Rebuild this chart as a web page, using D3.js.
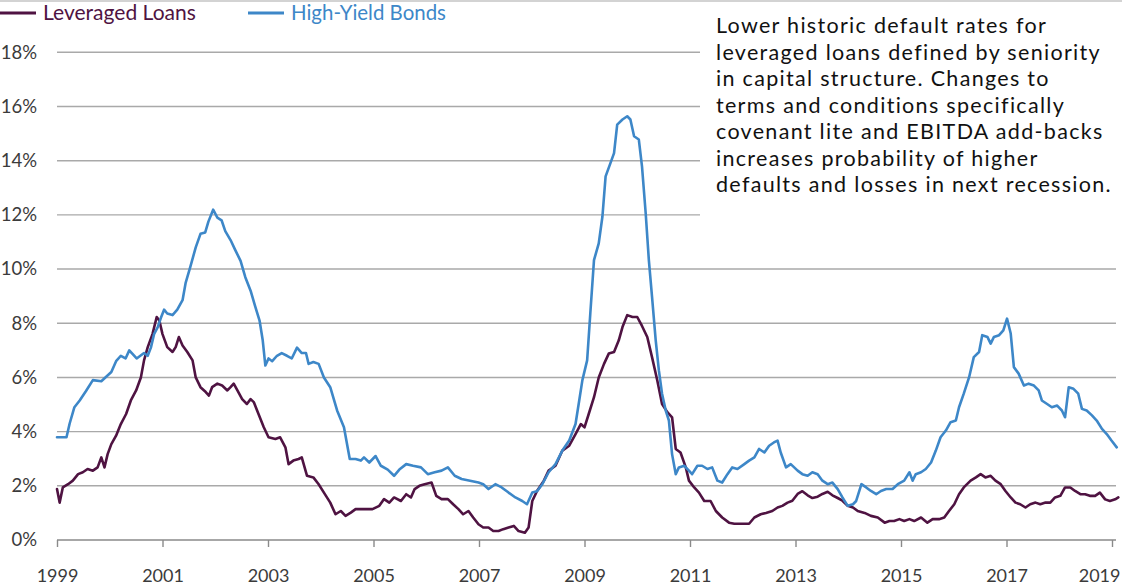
<!DOCTYPE html>
<html><head><meta charset="utf-8">
<script src="https://cdn.jsdelivr.net/npm/d3@7"></script>
<style>html,body{margin:0;padding:0;background:#fff}svg{display:block}</style>
</head><body>
<svg id="chart" width="1122" height="586"></svg>
<script>
const yTicks = [0, 2, 4, 6, 8, 10, 12, 14, 16, 18];
const xTicks = [1999, 2001, 2003, 2005, 2007, 2009, 2011, 2013, 2015, 2017, 2019];
const seriesNames = ["Leveraged Loans", "High-Yield Bonds"];
const noteLines = [
  "Lower historic default rates for",
  "leveraged loans defined by seniority",
  "in capital structure. Changes to",
  "terms and conditions specifically",
  "covenant lite and EBITDA add-backs",
  "increases probability of higher",
  "defaults and losses in next recession."
];
// [decimal year, default rate %]
const llPoints = [[1999.00,1.88],[1999.05,1.38],[1999.11,1.94],[1999.21,2.06],[1999.30,2.19],[1999.40,2.43],[1999.49,2.5],[1999.58,2.62],[1999.68,2.56],[1999.77,2.68],[1999.84,3.05],[1999.90,2.68],[1999.96,3.17],[2000.03,3.54],[2000.12,3.85],[2000.21,4.28],[2000.31,4.65],[2000.40,5.15],[2000.50,5.52],[2000.59,6.0],[2000.65,6.63],[2000.72,7.12],[2000.81,7.6],[2000.89,8.23],[2000.94,8.1],[2001.00,7.6],[2001.09,7.12],[2001.19,6.94],[2001.25,7.12],[2001.31,7.49],[2001.38,7.18],[2001.47,6.94],[2001.57,6.63],[2001.63,6.0],[2001.72,5.64],[2001.82,5.46],[2001.88,5.33],[2001.94,5.64],[2002.04,5.77],[2002.13,5.7],[2002.23,5.52],[2002.29,5.64],[2002.35,5.77],[2002.42,5.52],[2002.51,5.2],[2002.60,5.02],[2002.67,5.2],[2002.73,5.09],[2002.82,4.65],[2002.92,4.16],[2003.01,3.79],[2003.14,3.73],[2003.23,3.79],[2003.33,3.42],[2003.39,2.8],[2003.48,2.93],[2003.58,2.99],[2003.64,3.05],[2003.74,2.37],[2003.86,2.31],[2003.96,2.06],[2004.06,1.75],[2004.18,1.38],[2004.28,0.95],[2004.38,1.07],[2004.47,0.89],[2004.57,1.01],[2004.66,1.14],[2004.82,1.14],[2004.98,1.14],[2005.11,1.26],[2005.20,1.51],[2005.30,1.38],[2005.39,1.57],[2005.52,1.44],[2005.62,1.69],[2005.71,1.57],[2005.78,1.88],[2005.87,2.0],[2005.97,2.06],[2006.10,2.12],[2006.19,1.63],[2006.29,1.51],[2006.41,1.51],[2006.51,1.32],[2006.61,1.14],[2006.70,0.95],[2006.80,1.07],[2006.89,0.83],[2006.99,0.58],[2007.08,0.46],[2007.18,0.46],[2007.27,0.33],[2007.37,0.33],[2007.46,0.40],[2007.56,0.46],[2007.66,0.52],[2007.75,0.33],[2007.87,0.27],[2007.94,0.46],[2008.01,1.44],[2008.10,1.81],[2008.23,2.19],[2008.32,2.56],[2008.45,2.74],[2008.58,3.3],[2008.71,3.48],[2008.83,3.91],[2008.93,4.28],[2009.00,4.16],[2009.08,4.65],[2009.18,5.27],[2009.27,6.0],[2009.37,6.5],[2009.46,6.88],[2009.56,6.94],[2009.65,7.37],[2009.72,7.86],[2009.81,8.3],[2009.91,8.23],[2010.00,8.23],[2010.09,7.9],[2010.19,7.49],[2010.28,6.75],[2010.38,5.89],[2010.47,5.02],[2010.57,4.72],[2010.66,4.53],[2010.73,3.36],[2010.82,3.23],[2010.92,2.68],[2010.98,2.19],[2011.08,1.94],[2011.17,1.75],[2011.27,1.44],[2011.39,1.44],[2011.49,1.07],[2011.61,0.83],[2011.74,0.64],[2011.84,0.6],[2011.96,0.6],[2012.12,0.6],[2012.22,0.83],[2012.34,0.95],[2012.44,1.0],[2012.56,1.07],[2012.66,1.2],[2012.75,1.26],[2012.85,1.38],[2012.94,1.45],[2013.04,1.7],[2013.13,1.8],[2013.23,1.65],[2013.32,1.55],[2013.42,1.6],[2013.51,1.7],[2013.61,1.78],[2013.70,1.65],[2013.80,1.55],[2013.89,1.45],[2013.99,1.26],[2014.09,1.2],[2014.18,1.07],[2014.31,1.0],[2014.43,0.89],[2014.56,0.83],[2014.69,0.64],[2014.78,0.7],[2014.87,0.7],[2014.97,0.77],[2015.06,0.7],[2015.16,0.77],[2015.25,0.7],[2015.38,0.83],[2015.50,0.64],[2015.60,0.77],[2015.72,0.77],[2015.82,0.83],[2015.91,1.07],[2016.01,1.32],[2016.10,1.69],[2016.19,1.94],[2016.32,2.19],[2016.42,2.31],[2016.51,2.43],[2016.60,2.31],[2016.70,2.37],[2016.79,2.19],[2016.89,2.06],[2016.98,1.81],[2017.08,1.57],[2017.17,1.38],[2017.26,1.32],[2017.36,1.2],[2017.45,1.32],[2017.55,1.38],[2017.64,1.32],[2017.74,1.38],[2017.83,1.38],[2017.92,1.57],[2018.02,1.63],[2018.11,1.94],[2018.21,1.94],[2018.30,1.81],[2018.40,1.69],[2018.49,1.69],[2018.58,1.63],[2018.68,1.63],[2018.77,1.75],[2018.87,1.5],[2018.96,1.44],[2019.06,1.5],[2019.12,1.57]];
const hyPoints = [[1999.00,3.79],[1999.18,3.79],[1999.24,4.3],[1999.33,4.9],[1999.43,5.15],[1999.55,5.5],[1999.68,5.9],[1999.84,5.86],[2000.03,6.2],[2000.12,6.6],[2000.21,6.8],[2000.30,6.7],[2000.37,7.0],[2000.51,6.7],[2000.65,6.9],[2000.72,6.8],[2000.78,7.1],[2000.84,7.6],[2000.91,7.86],[2000.97,8.2],[2001.03,8.5],[2001.09,8.36],[2001.19,8.3],[2001.28,8.5],[2001.38,8.85],[2001.44,9.5],[2001.53,10.1],[2001.63,10.8],[2001.72,11.3],[2001.81,11.35],[2001.87,11.75],[2001.96,12.19],[2002.04,11.9],[2002.12,11.8],[2002.19,11.4],[2002.29,11.07],[2002.38,10.7],[2002.48,10.3],[2002.57,9.7],[2002.67,9.2],[2002.76,8.6],[2002.84,8.1],[2002.90,7.37],[2002.95,6.44],[2003.01,6.7],[2003.08,6.6],[2003.17,6.8],[2003.26,6.9],[2003.36,6.8],[2003.45,6.7],[2003.55,7.1],[2003.64,6.9],[2003.72,6.9],[2003.77,6.5],[2003.86,6.57],[2003.96,6.5],[2004.06,6.0],[2004.18,5.64],[2004.31,4.78],[2004.44,4.16],[2004.55,2.99],[2004.66,2.99],[2004.76,2.93],[2004.82,3.05],[2004.92,2.86],[2005.04,3.1],[2005.14,2.74],[2005.27,2.6],[2005.39,2.37],[2005.49,2.6],[2005.62,2.8],[2005.75,2.74],[2005.90,2.68],[2006.03,2.43],[2006.16,2.5],[2006.29,2.56],[2006.41,2.68],[2006.54,2.37],[2006.67,2.25],[2006.83,2.19],[2006.99,2.12],[2007.08,2.06],[2007.18,1.88],[2007.31,2.06],[2007.43,1.94],[2007.56,1.75],[2007.69,1.57],[2007.82,1.44],[2007.91,1.32],[2008.01,1.75],[2008.10,1.8],[2008.20,2.06],[2008.32,2.5],[2008.45,2.8],[2008.58,3.3],[2008.71,3.67],[2008.83,4.28],[2008.90,5.15],[2008.96,5.9],[2009.05,6.63],[2009.11,8.36],[2009.18,10.33],[2009.27,10.95],[2009.34,11.94],[2009.40,13.42],[2009.49,13.9],[2009.56,14.28],[2009.62,15.33],[2009.72,15.52],[2009.81,15.64],[2009.87,15.52],[2009.94,14.9],[2010.03,14.78],[2010.09,13.79],[2010.16,12.06],[2010.22,10.33],[2010.28,8.98],[2010.35,7.37],[2010.41,6.26],[2010.47,5.4],[2010.54,4.78],[2010.60,4.41],[2010.66,3.17],[2010.73,2.43],[2010.79,2.68],[2010.89,2.74],[2010.98,2.56],[2011.04,2.43],[2011.14,2.74],[2011.23,2.74],[2011.33,2.62],[2011.42,2.68],[2011.52,2.19],[2011.61,2.12],[2011.71,2.43],[2011.80,2.68],[2011.90,2.62],[2012.03,2.8],[2012.12,2.93],[2012.22,3.05],[2012.31,3.36],[2012.41,3.23],[2012.50,3.48],[2012.59,3.6],[2012.66,3.67],[2012.72,3.23],[2012.82,2.68],[2012.91,2.8],[2013.04,2.56],[2013.13,2.43],[2013.23,2.37],[2013.32,2.5],[2013.42,2.43],[2013.51,2.19],[2013.61,2.06],[2013.70,2.12],[2013.80,1.88],[2013.89,1.57],[2013.99,1.26],[2014.09,1.32],[2014.15,1.44],[2014.25,2.06],[2014.34,1.94],[2014.43,1.81],[2014.53,1.69],[2014.62,1.81],[2014.72,1.88],[2014.84,1.88],[2014.94,2.06],[2015.06,2.19],[2015.16,2.5],[2015.22,2.19],[2015.28,2.43],[2015.38,2.5],[2015.47,2.62],[2015.57,2.86],[2015.66,3.3],[2015.75,3.79],[2015.85,4.04],[2015.94,4.35],[2016.04,4.41],[2016.10,4.9],[2016.19,5.4],[2016.29,6.0],[2016.38,6.75],[2016.48,6.94],[2016.54,7.56],[2016.64,7.49],[2016.70,7.25],[2016.76,7.49],[2016.86,7.56],[2016.94,7.74],[2017.01,8.17],[2017.08,7.62],[2017.14,6.38],[2017.23,6.14],[2017.33,5.7],[2017.42,5.77],[2017.52,5.7],[2017.61,5.52],[2017.67,5.15],[2017.77,5.02],[2017.86,4.9],[2017.96,4.96],[2018.05,4.78],[2018.11,4.53],[2018.18,5.64],[2018.27,5.58],[2018.36,5.4],[2018.43,4.84],[2018.52,4.78],[2018.62,4.6],[2018.71,4.41],[2018.81,4.1],[2018.90,3.91],[2018.99,3.67],[2019.09,3.42]];

const colors = ["#4f1342", "#3d87c8"];
const svg = d3.select("#chart");
const x = d3.scaleLinear().domain([1999, 2019]).range([57, 1112]);
const y = d3.scaleLinear().domain([0, 18]).range([540, 52.3]);
const axisFont = "Lato, 'Open Sans', sans-serif";

// top border
svg.append("line").attr("x1", 0).attr("x2", 1122).attr("y1", 1).attr("y2", 1)
  .attr("stroke", "#c4c4c4").attr("stroke-width", 1.5);

// gridlines
svg.append("g").selectAll("line").data(yTicks.filter(d => d > 0)).join("line")
  .attr("x1", 57).attr("x2", 1116)
  .attr("y1", d => y(d)).attr("y2", d => y(d))
  .attr("stroke", "#a9a9a9").attr("stroke-width", 1.4);

// note box hides the upper gridlines on the right
svg.append("rect").attr("x", 700).attr("y", 3).attr("width", 422).attr("height", 245).attr("fill", "#fff");

// y axis labels
const yAxis = d3.axisLeft(y).tickValues(yTicks).tickFormat(d => d + "%").tickSize(0).tickPadding(20);
const gy = svg.append("g").attr("transform", "translate(57,0)").call(yAxis);
gy.select(".domain").remove();
gy.selectAll("text").attr("font-family", axisFont).attr("font-size", 18.5).attr("fill", "#3b3b3b");

// x axis
const xAxis = d3.axisBottom(x).tickValues(xTicks).tickFormat(d3.format("d")).tickSize(7).tickSizeOuter(0).tickPadding(22);
const gx = svg.append("g").attr("transform", "translate(0,540)").call(xAxis);
gx.select(".domain").attr("stroke", "#8a8a8a").attr("stroke-width", 1.4).attr("d", "M57,0H1116");
gx.selectAll(".tick line").attr("stroke", "#8a8a8a").attr("stroke-width", 1.4);
gx.selectAll("text").attr("font-family", axisFont).attr("font-size", 18).attr("fill", "#3b3b3b");
gx.selectAll(".tick text").filter(d => d === 2019).attr("text-anchor", "end").attr("dx", 8);

// series lines
const line = d3.line().x(d => x(d[0])).y(d => y(d[1]));
[llPoints, hyPoints].forEach((pts, i) => {
  svg.append("path").datum(pts).attr("d", line).attr("fill", "none")
    .attr("stroke", colors[i]).attr("stroke-width", 2.6)
    .attr("stroke-linejoin", "round").attr("stroke-linecap", "round");
});

// legend
const legendX = [0, 248];
const legendW = [153, 155];
seriesNames.forEach((name, i) => {
  const g = svg.append("g");
  g.append("line").attr("x1", legendX[i]).attr("x2", legendX[i] + 36).attr("y1", 13).attr("y2", 13)
    .attr("stroke", colors[i]).attr("stroke-width", 3);
  const t = g.append("text").attr("x", legendX[i] + 43).attr("y", 20)
    .attr("font-family", axisFont).attr("font-size", 20).attr("fill", colors[i]).text(name);
  const w = t.node().getComputedTextLength();
  t.attr("font-size", 20 * legendW[i] / w);
});

// note text: one text element per line, size capped so lines do not overlap
const noteFs = 21.5;
const noteG = svg.append("g").attr("font-family", "Lato, 'Open Sans', sans-serif").attr("fill", "#111").attr("font-size", noteFs);
const noteTexts = noteG.selectAll("text").data(noteLines).join("text")
  .attr("x", 716).attr("y", (d, i) => 33.3 + i * 26.5).text(d => d);
let maxW = 0, maxChars = 1;
noteTexts.each(function (d) {
  const w = this.getComputedTextLength();
  if (w > maxW) { maxW = w; maxChars = d.length; }
});
const extra = (396 - maxW) / maxChars;
noteTexts.attr("letter-spacing", Math.max(0, extra));
</script>
</body></html>
